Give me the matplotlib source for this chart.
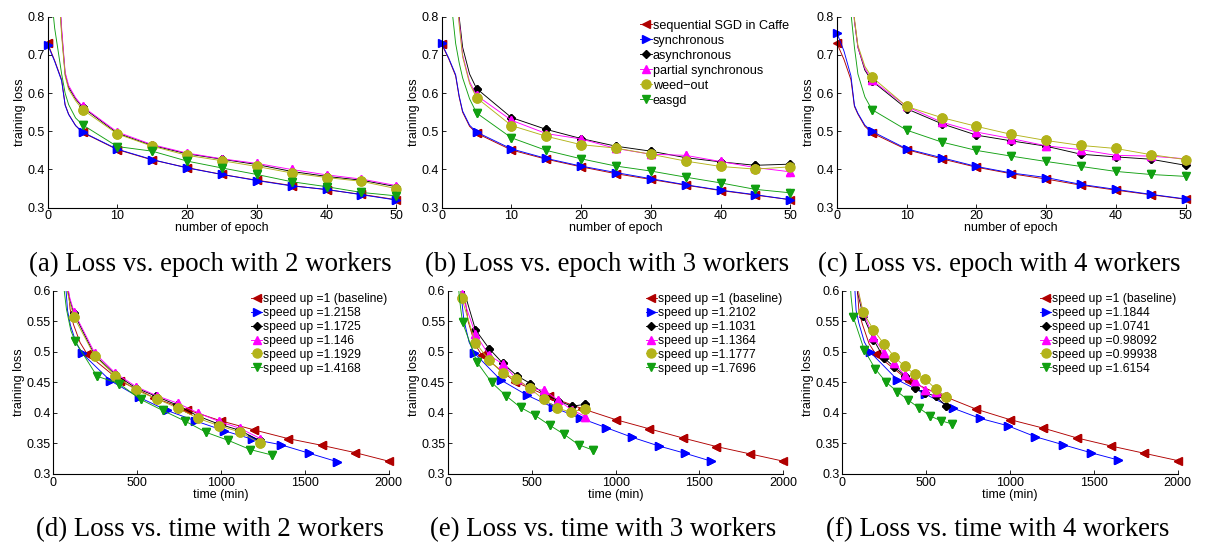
import numpy as np
import matplotlib
matplotlib.use('Agg')
import matplotlib.pyplot as plt

plt.rcParams['font.family'] = ['Liberation Sans', 'DejaVu Sans']

EPOCHS = [0, 1, 2, 2.5, 3, 4, 5, 10, 15, 20, 25, 30, 35, 40, 45, 50]

# training loss per epoch, 2 workers
SEQ_2 = [0.730, 0.685, 0.635, 0.570, 0.545, 0.515, 0.497, 0.452, 0.425, 0.405, 0.387, 0.372, 0.358, 0.347, 0.335, 0.321]
SYNC_2 = [0.727, 0.683, 0.632, 0.568, 0.544, 0.515, 0.498, 0.453, 0.426, 0.404, 0.387, 0.371, 0.357, 0.348, 0.334, 0.320]
ASYNC_2 = [1.60, 1.05, 0.76, 0.65, 0.615, 0.585, 0.563, 0.495, 0.463, 0.441, 0.427, 0.413, 0.395, 0.382, 0.372, 0.355]
PARTIAL_2 = [1.60, 1.06, 0.77, 0.655, 0.620, 0.588, 0.565, 0.498, 0.465, 0.443, 0.428, 0.416, 0.400, 0.386, 0.375, 0.358]
WEED_2 = [1.58, 1.04, 0.75, 0.645, 0.610, 0.580, 0.557, 0.493, 0.461, 0.437, 0.423, 0.408, 0.391, 0.379, 0.369, 0.350]
EASGD_2 = [0.95, 0.77, 0.65, 0.600, 0.570, 0.535, 0.517, 0.460, 0.448, 0.422, 0.404, 0.387, 0.368, 0.355, 0.340, 0.331]

# 3 workers
SEQ_3 = [0.728, 0.690, 0.645, 0.590, 0.550, 0.513, 0.495, 0.451, 0.427, 0.407, 0.389, 0.374, 0.359, 0.345, 0.333, 0.321]
SYNC_3 = [0.730, 0.692, 0.648, 0.593, 0.553, 0.516, 0.498, 0.454, 0.429, 0.409, 0.392, 0.376, 0.360, 0.346, 0.334, 0.321]
ASYNC_3 = [2.00, 1.35, 0.92, 0.80, 0.72, 0.650, 0.612, 0.536, 0.505, 0.481, 0.461, 0.448, 0.431, 0.420, 0.411, 0.414]
PARTIAL_3 = [2.00, 1.33, 0.90, 0.79, 0.70, 0.630, 0.594, 0.529, 0.494, 0.480, 0.455, 0.440, 0.437, 0.421, 0.405, 0.394]
WEED_3 = [1.98, 1.32, 0.89, 0.78, 0.695, 0.625, 0.588, 0.515, 0.487, 0.465, 0.456, 0.440, 0.422, 0.408, 0.401, 0.407]
EASGD_3 = [1.20, 0.90, 0.73, 0.68, 0.64, 0.585, 0.548, 0.483, 0.450, 0.428, 0.409, 0.396, 0.380, 0.365, 0.348, 0.339]

# 4 workers
SEQ_4 = [0.730, 0.688, 0.635, 0.565, 0.545, 0.513, 0.496, 0.452, 0.428, 0.406, 0.389, 0.375, 0.359, 0.346, 0.334, 0.322]
SYNC_4 = [0.757, 0.710, 0.645, 0.568, 0.547, 0.516, 0.500, 0.454, 0.431, 0.408, 0.391, 0.379, 0.361, 0.348, 0.335, 0.323]
ASYNC_4 = [2.20, 1.50, 0.95, 0.79, 0.72, 0.660, 0.632, 0.559, 0.520, 0.490, 0.475, 0.461, 0.440, 0.433, 0.427, 0.411]
PARTIAL_4 = [2.20, 1.50, 0.95, 0.79, 0.72, 0.665, 0.634, 0.565, 0.524, 0.498, 0.481, 0.462, 0.452, 0.437, 0.435, 0.428]
WEED_4 = [2.20, 1.50, 0.95, 0.795, 0.725, 0.670, 0.642, 0.565, 0.536, 0.513, 0.492, 0.476, 0.463, 0.455, 0.439, 0.426]
EASGD_4 = [1.60, 1.12, 0.81, 0.72, 0.65, 0.590, 0.557, 0.503, 0.472, 0.450, 0.435, 0.421, 0.408, 0.395, 0.387, 0.382]

LOSS_2 = [SEQ_2, SYNC_2, ASYNC_2, PARTIAL_2, WEED_2, EASGD_2]
LOSS_3 = [SEQ_3, SYNC_3, ASYNC_3, PARTIAL_3, WEED_3, EASGD_3]
LOSS_4 = [SEQ_4, SYNC_4, ASYNC_4, PARTIAL_4, WEED_4, EASGD_4]

MIN_PER_EPOCH_2 = [40, 33.9, 24.6, 24.7, 24.7, 26.1]
MIN_PER_EPOCH_3 = [40, 31.4, 16.4, 16.4, 16.3, 17.3]
MIN_PER_EPOCH_4 = [40, 32.9, 12.4, 12.4, 12.4, 13.1]

METHODS = ['sequential SGD in Caffe', 'synchronous', 'asynchronous',
           'partial synchronous', 'weed\u2212out', 'easgd']
SPEEDUP_2 = ['1 (baseline)', '1.2158', '1.1725', '1.146', '1.1929', '1.4168']
SPEEDUP_3 = ['1 (baseline)', '1.2102', '1.1031', '1.1364', '1.1777', '1.7696']
SPEEDUP_4 = ['1 (baseline)', '1.1844', '1.0741', '0.98092', '0.99938', '1.6154']

COLORS = ['#b00000', '#0000ff', '#000000', '#ff00ff', '#b3b31a', '#12a012']
MARKERS = ['<', '>', 'D', '^', 'o', 'v']
MSIZE = [6, 6, 4.5, 6, 6.5, 6]

MARK_IDX = [i for i, e in enumerate(EPOCHS) if e % 5 == 0]


def style_axes(ax):
    for s in ['top', 'right']:
        ax.spines[s].set_visible(False)
    for s in ['left', 'bottom']:
        ax.spines[s].set_linewidth(0.8)
    ax.tick_params(direction='in', length=3, width=0.6, labelsize=9, pad=2)


def draw(ax, xs, losses, labels, ylim):
    for i in range(6):
        x = np.asarray(xs[i], dtype=float)
        y = np.asarray(losses[i], dtype=float)
        ax.plot(x, y, color=COLORS[i], lw=0.65, marker=MARKERS[i],
                ms=MSIZE[i], markevery=MARK_IDX, label=labels[i])
        # markers sitting on the axes edge are drawn whole, as in the original
        ym = np.ma.masked_outside(y[MARK_IDX], ylim[0], ylim[1])
        ax.plot(x[MARK_IDX], ym, ls='none', color=COLORS[i], marker=MARKERS[i],
                ms=MSIZE[i], clip_on=False)


fig = plt.figure(figsize=(12.22, 5.47), dpi=100)
W, H = 1222.0, 547.0

top_lefts = [47.7, 441.7, 837.0]
bot_lefts = [53.3, 448.0, 842.3]
top_losses = [LOSS_2, LOSS_3, LOSS_4]
mpes = [MIN_PER_EPOCH_2, MIN_PER_EPOCH_3, MIN_PER_EPOCH_4]
speedups = [SPEEDUP_2, SPEEDUP_3, SPEEDUP_4]
letters_top = ['a', 'b', 'c']
letters_bot = ['d', 'e', 'f']
workers = [2, 3, 4]
cap_top_x = [210, 607, 999]
cap_bot_x = [210, 603, 998]

for k in range(3):
    # loss vs epoch
    ax = fig.add_axes([top_lefts[k] / W, 1 - 207.7 / H, 348.5 / W, 191.0 / H])
    ep = np.array(EPOCHS)
    draw(ax, [ep] * 6, top_losses[k], METHODS, (0.3, 0.8))
    ax.set_xlim(0, 50)
    ax.set_ylim(0.3, 0.8)
    ax.set_xticks([0, 10, 20, 30, 40, 50])
    ax.set_yticks([0.3, 0.4, 0.5, 0.6, 0.7, 0.8])
    ax.set_yticklabels(['0.3', '0.4', '0.5', '0.6', '0.7', '0.8'])
    ax.set_xlabel('number of epoch', fontsize=9, labelpad=0)
    ax.set_ylabel('training loss', fontsize=9, labelpad=1)
    style_axes(ax)
    if k == 1:
        ax.legend(loc='upper left', bbox_to_anchor=(0.57, 0.985), frameon=False,
                  fontsize=9.1, handlelength=0.9, handletextpad=0.1,
                  labelspacing=0.24, borderpad=0, borderaxespad=0)
    fig.text(cap_top_x[k] / W, 1 - 264 / H,
             '(%s) Loss vs. epoch with %d workers' % (letters_top[k], workers[k]),
             ha='center', va='center', family='Liberation Serif', fontsize=19.3)

    # loss vs time
    ax = fig.add_axes([bot_lefts[k] / W, 1 - 474.0 / H, 335.3 / W, 183.3 / H])
    times = [ep * m for m in mpes[k]]
    draw(ax, times, top_losses[k], ['speed up =' + s for s in speedups[k]], (0.3, 0.6))
    ax.set_xlim(0, 2000)
    ax.set_ylim(0.3, 0.6)
    ax.set_xticks([0, 500, 1000, 1500, 2000])
    ax.set_yticks([0.3, 0.35, 0.4, 0.45, 0.5, 0.55, 0.6])
    ax.set_yticklabels(['0.3', '0.35', '0.4', '0.45', '0.5', '0.55', '0.6'])
    ax.set_xlabel('time (min)', fontsize=9, labelpad=0)
    ax.set_ylabel('training loss', fontsize=9, labelpad=1)
    style_axes(ax)
    ax.legend(loc='upper left', bbox_to_anchor=(0.59, 0.985), frameon=False,
              fontsize=8.7, handlelength=0.9, handletextpad=0.1,
              labelspacing=0.15, borderpad=0, borderaxespad=0)
    fig.text(cap_bot_x[k] / W, 1 - 530 / H,
             '(%s) Loss vs. time with %d workers' % (letters_bot[k], workers[k]),
             ha='center', va='center', family='Liberation Serif', fontsize=19.3)

fig.savefig('out.png', dpi=100)
